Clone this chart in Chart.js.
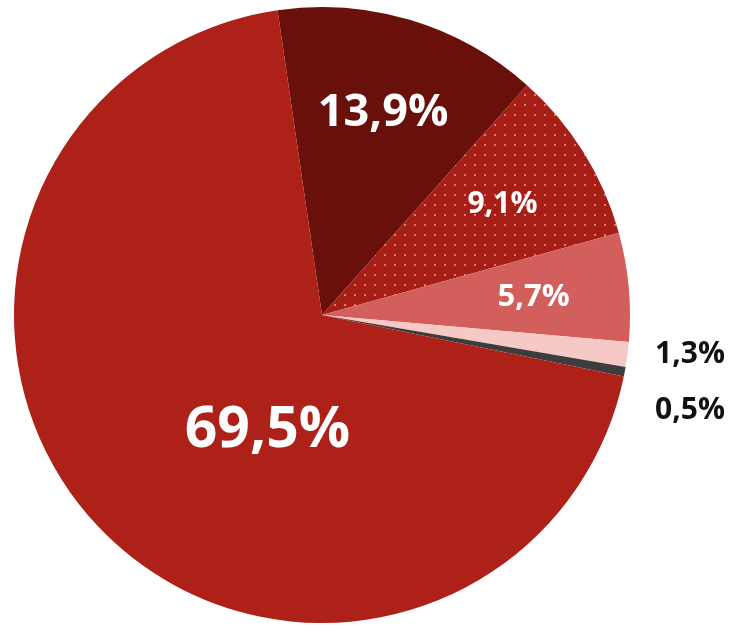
<!DOCTYPE html>
<html>
<head>
<meta charset="utf-8">
<script src="https://cdn.jsdelivr.net/npm/chart.js@4.4.1/dist/chart.umd.min.js"></script>
<style>
  html, body { margin: 0; padding: 0; background: #ffffff; }
  #wrap { width: 750px; height: 630px; }
</style>
</head>
<body>
<div id="wrap"><canvas id="share_chart" width="750" height="630"></canvas></div>
<script>
// slice order goes clockwise from the top
var labels = ['13,9%', '9,1%', '5,7%', '1,3%', '0,5%', '69,5%'];
var shares = [13.9, 9.1, 5.7, 1.3, 0.5, 69.5];
var sliceColors = ['#6a100b', 'dots', '#d25f5c', '#f6c8c6', '#3d3d3d', '#ae2119'];
var labelColors = ['#ffffff', '#ffffff', '#ffffff', '#111111', '#111111', '#ffffff'];
var labelSizes = [45, 30, 31, 30, 30, 57];

// dotted fill for the 9,1% slice
function dotPattern(ctx) {
    var c = document.createElement('canvas');
    c.width = 10; c.height = 10;
    var p = c.getContext('2d');
    p.fillStyle = '#a61f17';
    p.fillRect(0, 0, 10, 10);
    p.fillStyle = '#e8776f';
    p.fillRect(4, 4, 2, 2);
    return ctx.createPattern(c, 'repeat');
}

var sliceLabels = {
    id: 'sliceLabels',
    afterDatasetsDraw: function(chart) {
        var ctx = chart.ctx;
        var arcs = chart.getDatasetMeta(0).data;
        ctx.save();
        ctx.textAlign = 'center';
        ctx.textBaseline = 'middle';
        arcs.forEach(function(arc, i) {
            var mid = (arc.startAngle + arc.endAngle) / 2;
            var r = arc.outerRadius;
            var x, y;
            if (i === 3 || i === 4) {
                // small slices: labels outside on the right
                x = arc.x + r + 60;
                y = arc.y + (i === 3 ? 37 : 93);
            } else if (i === 5) {
                var a = mid - 21 * Math.PI / 180;
                x = arc.x + Math.cos(a) * r * 0.41;
                y = arc.y + Math.sin(a) * r * 0.41;
            } else {
                x = arc.x + Math.cos(mid) * r * 0.69;
                y = arc.y + Math.sin(mid) * r * 0.69;
            }
            ctx.fillStyle = labelColors[i];
            ctx.font = 'bold ' + labelSizes[i] + 'px "Open Sans", sans-serif';
            ctx.fillText(labels[i], x, y + 2);
        });
        ctx.restore();
    }
};

var cx = document.getElementById('share_chart');
var c2d = cx.getContext('2d');
var fills = sliceColors.map(function(col) { return col === 'dots' ? dotPattern(c2d) : col; });

var pChart = new Chart(cx, {
    type: 'pie',
    data: {
        labels: labels,
        datasets: [{
            data: shares,
            backgroundColor: fills,
            borderWidth: 0
        }]
    },
    options: {
        responsive: false,
        animation: false,
        rotation: -8.3,
        layout: { padding: { left: 14, right: 120, top: 7, bottom: 7 } },
        plugins: {
            legend: { display: false },
            tooltip: { enabled: false }
        }
    },
    plugins: [sliceLabels]
});
</script>
</body>
</html>
